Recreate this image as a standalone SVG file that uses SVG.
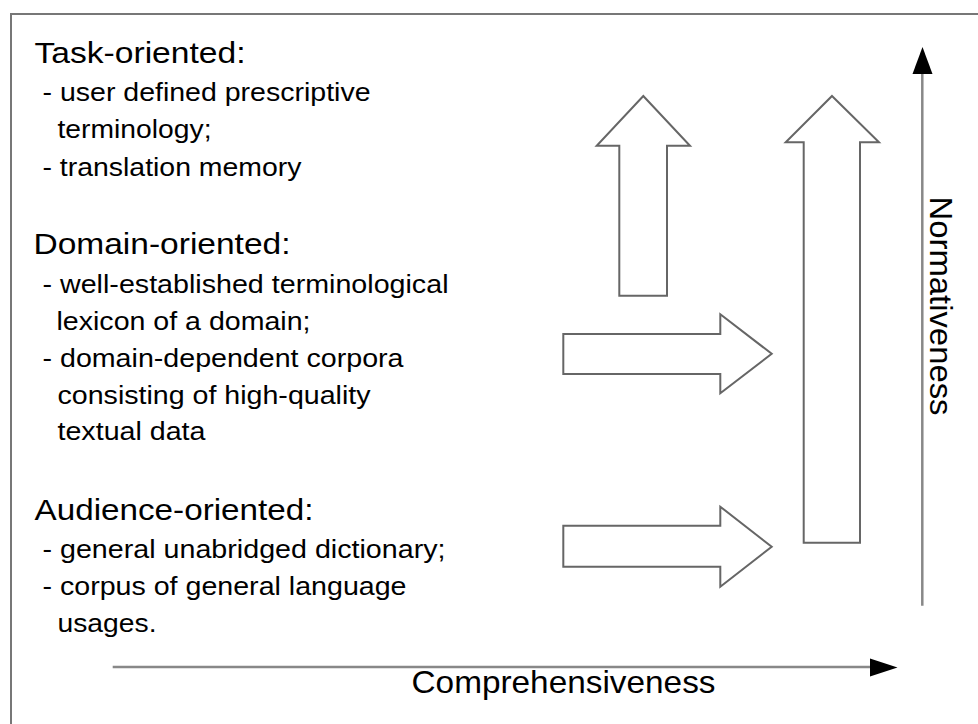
<svg xmlns="http://www.w3.org/2000/svg" width="978" height="724" viewBox="0 0 978 724">
  <style>
    .frame { fill: #ffffff; stroke: #777777; stroke-width: 2; }
    .blk { fill: #ffffff; stroke: #666666; stroke-width: 2; stroke-linejoin: miter; }
    .axis { fill: none; stroke: #888888; stroke-width: 2.5; }
    .head { fill: #000000; stroke: none; }
    text { font-family: "Liberation Sans", Arial, Helvetica, sans-serif; fill: #000000; }
    .hdr { font-size: 30px; }
    .itm { font-size: 26px; }
    .ax { font-size: 31.5px; }
  </style>
  <rect class="frame" x="11" y="14" width="990" height="740"/>

  <g id="task-oriented">
    <text class="hdr" x="34.5" y="63" textLength="211" lengthAdjust="spacingAndGlyphs">Task-oriented:</text>
    <text class="itm" x="42.5" y="101" textLength="328" lengthAdjust="spacingAndGlyphs">- user defined prescriptive</text>
    <text class="itm" x="57.5" y="138" textLength="154" lengthAdjust="spacingAndGlyphs">terminology;</text>
    <text class="itm" x="42.5" y="176" textLength="259" lengthAdjust="spacingAndGlyphs">- translation memory</text>
  </g>

  <g id="domain-oriented">
    <text class="hdr" x="33.5" y="254" textLength="257" lengthAdjust="spacingAndGlyphs">Domain-oriented:</text>
    <text class="itm" x="42.5" y="293" textLength="406" lengthAdjust="spacingAndGlyphs">- well-established terminological</text>
    <text class="itm" x="56.5" y="330" textLength="254" lengthAdjust="spacingAndGlyphs">lexicon of a domain;</text>
    <text class="itm" x="42.5" y="367" textLength="361" lengthAdjust="spacingAndGlyphs">- domain-dependent corpora</text>
    <text class="itm" x="57.5" y="403.5" textLength="313" lengthAdjust="spacingAndGlyphs">consisting of high-quality</text>
    <text class="itm" x="57.5" y="440" textLength="148" lengthAdjust="spacingAndGlyphs">textual data</text>
  </g>

  <g id="audience-oriented">
    <text class="hdr" x="34.5" y="520" textLength="279" lengthAdjust="spacingAndGlyphs">Audience-oriented:</text>
    <text class="itm" x="42.5" y="558" textLength="403" lengthAdjust="spacingAndGlyphs">- general unabridged dictionary;</text>
    <text class="itm" x="42.5" y="595" textLength="364" lengthAdjust="spacingAndGlyphs">- corpus of general language</text>
    <text class="itm" x="57.5" y="631.5" textLength="99" lengthAdjust="spacingAndGlyphs">usages.</text>
  </g>

  <g id="arrow-task-up">
    <polygon class="blk" points="643.3,96 690,145.7 667,145.7 667,295.7 619.3,295.7 619.3,145.7 596.7,145.7"/>
  </g>
  <g id="arrow-main-up">
    <polygon class="blk" points="832,96 879,142.3 860,142.3 860,542.7 803.7,542.7 803.7,142.3 785.7,142.3"/>
  </g>
  <g id="arrow-domain-right">
    <polygon class="blk" points="563.3,334 720.3,334 720.3,314.3 771.7,353.8 720.3,393.3 720.3,374 563.3,374"/>
  </g>
  <g id="arrow-audience-right">
    <polygon class="blk" points="563.3,525.7 720.3,525.7 720.3,506.7 771.7,546.7 720.3,586.7 720.3,566.7 563.3,566.7"/>
  </g>

  <g id="connectors">
    <line class="axis" x1="922.3" y1="605.7" x2="922.3" y2="72"/>
    <polygon class="head" points="922.5,47 932.5,74 912.5,74"/>
    <line class="axis" x1="112.7" y1="667" x2="871" y2="667"/>
    <polygon class="head" points="897.5,667.5 870,658.5 870,676.5"/>
  </g>

  <g id="label-comprehensiveness">
    <text class="ax" x="411.5" y="693.3" textLength="304" lengthAdjust="spacingAndGlyphs">Comprehensiveness</text>
  </g>
  <g id="label-normativeness">
    <text class="ax" transform="translate(929.5,196.5) rotate(90)" x="0" y="0" textLength="219" lengthAdjust="spacingAndGlyphs">Normativeness</text>
  </g>
</svg>
